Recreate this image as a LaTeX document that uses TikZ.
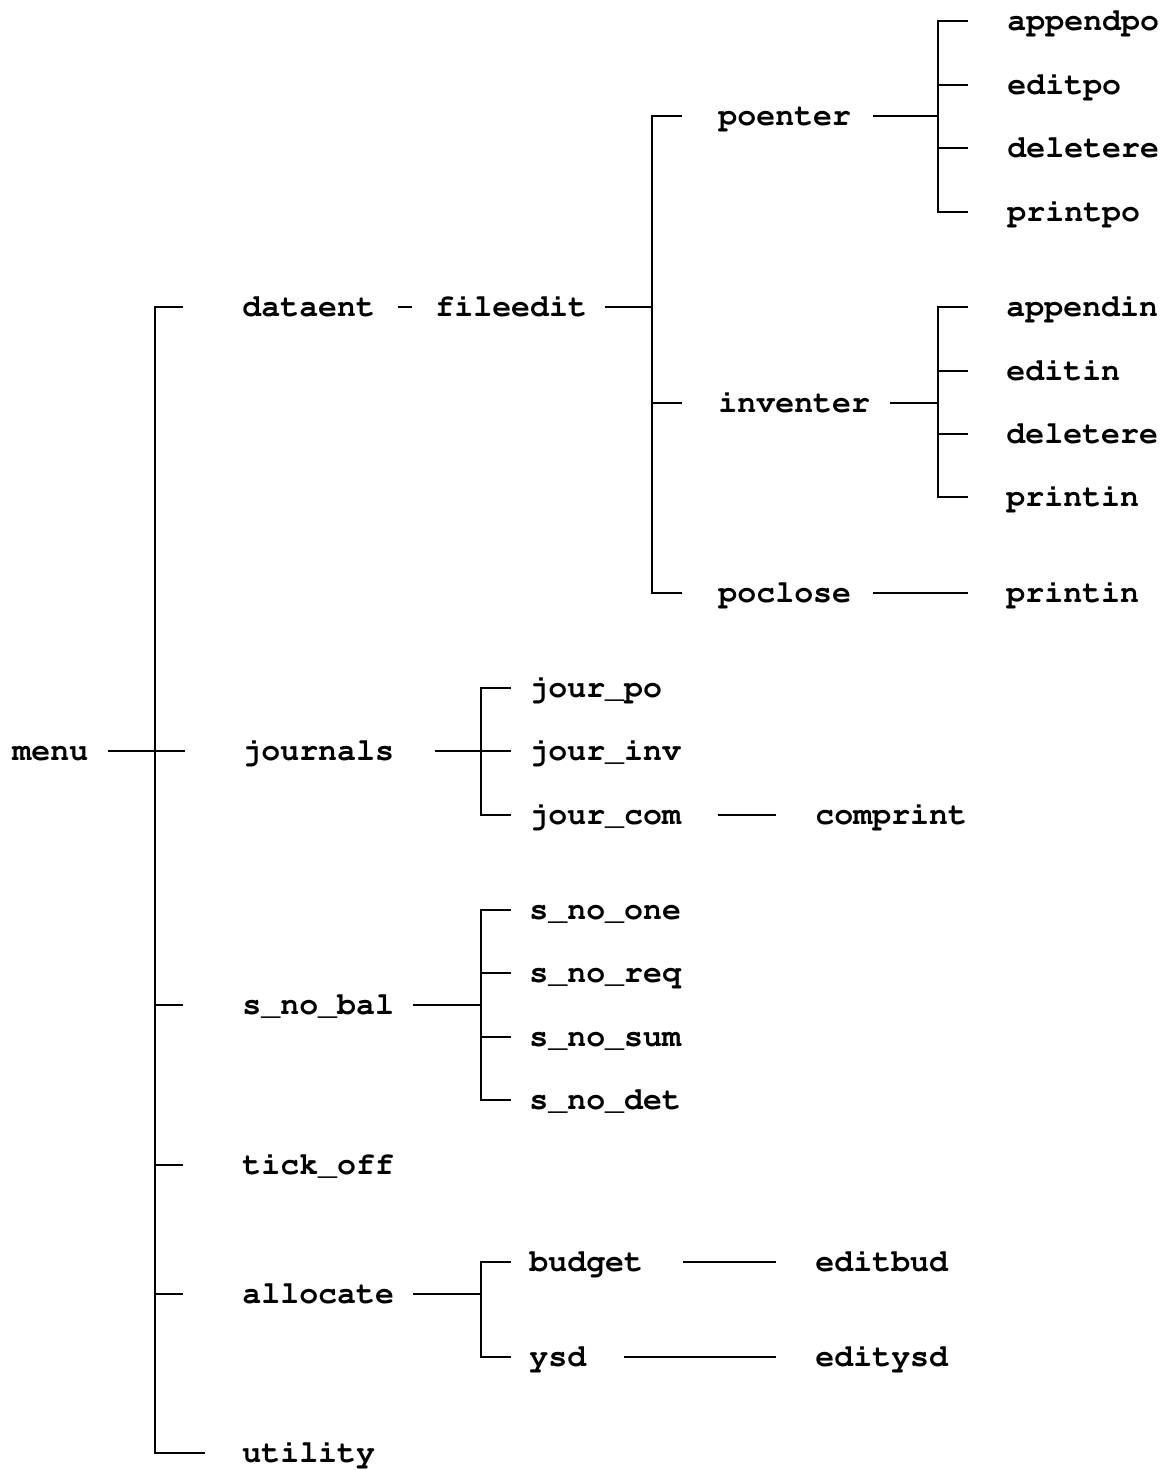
\documentclass[tikz,border=0pt]{standalone}
\usepackage[T1]{fontenc}
\usepackage{tikz}
\newcommand\menufont{\fontencoding{T1}\fontfamily{pcr}\bfseries\fontsize{15.8}{18}\selectfont}
\tikzset
{
    lbl/.style  = {anchor=west, inner sep=0pt, text height=11pt, text depth=1.5pt, font=\menufont},
    link/.style = {line width=1.4pt, line cap=butt}
}

\begin{document}
\begin{tikzpicture}[x=0.5pt, y=-0.5pt]
    \useasboundingbox (0,0) rectangle (1169,1470);
    % ------------------------------------------------ bar positions
    \coordinate (trunk) at (155,0);
    \coordinate (lvtwo) at (481,0);
    \coordinate (fe)    at (652,0);
    \coordinate (lvthree) at (938,0);
    % ------------------------------------------------ labels
    \node [lbl] (menu)     at (12,751)   {menu};
    \node [lbl] (dataent)  at (242,307)  {dataent};
    \node [lbl] (journals) at (242,751)  {journals};
    \node [lbl] (snobal)   at (242,1005) {s\_no\_bal};
    \node [lbl] (tickoff)  at (242,1165) {tick\_off};
    \node [lbl] (allocate) at (242,1294) {allocate};
    \node [lbl] (utility)  at (242,1453) {utility};

    \node [lbl] (fileedit) at (435,307)  {fileedit};
    \node [lbl] (poenter)  at (718,116)  {poenter};
    \node [lbl] (inventer) at (718,403)  {inventer};
    \node [lbl] (poclose)  at (718,593)  {poclose};

    \node [lbl] (appendpo) at (1007,21)  {appendpo};
    \node [lbl] (editpo)   at (1007,85)  {editpo};
    \node [lbl] (delpo)    at (1007,148) {deletere};
    \node [lbl] (printpo)  at (1007,212) {printpo};

    \node [lbl] (appendin) at (1006,307) {appendin};
    \node [lbl] (editin)   at (1006,371) {editin};
    \node [lbl] (delin)    at (1006,434) {deletere};
    \node [lbl] (printin)  at (1006,497) {printin};
    \node [lbl] (printcl)  at (1006,593) {printin};

    \node [lbl] (jourpo)   at (529,688)  {jour\_po};
    \node [lbl] (jourinv)  at (529,751)  {jour\_inv};
    \node [lbl] (jourcom)  at (529,815)  {jour\_com};
    \node [lbl] (comprint) at (815,815)  {comprint};

    \node [lbl] (snoone)   at (529,910)  {s\_no\_one};
    \node [lbl] (snoreq)   at (529,973)  {s\_no\_req};
    \node [lbl] (snosum)   at (529,1037) {s\_no\_sum};
    \node [lbl] (snodet)   at (529,1100) {s\_no\_det};

    \node [lbl] (budget)   at (529,1262) {budget};
    \node [lbl] (ysd)      at (529,1357) {ysd};
    \node [lbl] (editbud)  at (815,1262) {editbud};
    \node [lbl] (editysd)  at (815,1357) {editysd};

    % ------------------------------------------------ menu level
    \draw [link, shorten <=9.5pt, shorten >=28.5pt] (menu.east) -- (journals.west);
    \draw [link] ([xshift=-29.5pt]dataent.west) -- (dataent.west -| trunk) -- (utility.west -| trunk) -- ([xshift=-18.5pt]utility.west);
    \draw [link, shorten >=29.5pt] (snobal.west -| trunk) -- (snobal.west);
    \draw [link, shorten >=29.5pt] (tickoff.west -| trunk) -- (tickoff.west);
    \draw [link, shorten >=29.5pt] (allocate.west -| trunk) -- (allocate.west);

    % ------------------------------------------------ dataent
    \draw [link, shorten <=11pt, shorten >=11.5pt] (dataent.east) -- (fileedit.west);
    \draw [link, shorten <=9pt] (fileedit.east) -- (fileedit.east -| fe);
    \draw [link] ([xshift=-18pt]poenter.west) -- (poenter.west -| fe) -- (poclose.west -| fe) -- ([xshift=-18pt]poclose.west);
    \draw [link, shorten >=18pt] (inventer.west -| fe) -- (inventer.west);

    \draw [link, shorten <=10.5pt] (poenter.east) -- (poenter.east -| lvthree);
    \draw [link] ([xshift=-19.5pt]appendpo.west) -- (appendpo.west -| lvthree) -- (printpo.west -| lvthree) -- ([xshift=-19.5pt]printpo.west);
    \draw [link, shorten >=19.5pt] (editpo.west -| lvthree) -- (editpo.west);
    \draw [link, shorten >=19.5pt] (delpo.west -| lvthree) -- (delpo.west);

    \draw [link, shorten <=10pt] (inventer.east) -- (inventer.east -| lvthree);
    \draw [link] ([xshift=-19pt]appendin.west) -- (appendin.west -| lvthree) -- (printin.west -| lvthree) -- ([xshift=-19pt]printin.west);
    \draw [link, shorten >=19pt] (editin.west -| lvthree) -- (editin.west);
    \draw [link, shorten >=19pt] (delin.west -| lvthree) -- (delin.west);

    \draw [link, shorten <=10.5pt, shorten >=19pt] (poclose.east) -- (printcl.west);

    % ------------------------------------------------ journals
    \draw [link, shorten <=20.5pt, shorten >=9pt] (journals.east) -- (jourinv.west);
    \draw [link] ([xshift=-9pt]jourpo.west) -- (jourpo.west -| lvtwo) -- (jourcom.west -| lvtwo) -- ([xshift=-9pt]jourcom.west);
    \draw [link, shorten <=18.5pt, shorten >=19.5pt] (jourcom.east) -- (comprint.west);

    % ------------------------------------------------ s_no_bal
    \draw [link, shorten <=9.5pt] (snobal.east) -- (snobal.east -| lvtwo);
    \draw [link] ([xshift=-9pt]snoone.west) -- (snoone.west -| lvtwo) -- (snodet.west -| lvtwo) -- ([xshift=-9pt]snodet.west);
    \draw [link, shorten >=9pt] (snoreq.west -| lvtwo) -- (snoreq.west);
    \draw [link, shorten >=9pt] (snosum.west -| lvtwo) -- (snosum.west);

    % ------------------------------------------------ allocate
    \draw [link, shorten <=9.5pt] (allocate.east) -- (allocate.east -| lvtwo);
    \draw [link] ([xshift=-9pt]budget.west) -- (budget.west -| lvtwo) -- (ysd.west -| lvtwo) -- ([xshift=-9pt]ysd.west);
    \draw [link, shorten <=19.5pt, shorten >=19.5pt] (budget.east) -- (editbud.west);
    \draw [link, shorten <=18.5pt, shorten >=19.5pt] (ysd.east) -- (editysd.west);
\end{tikzpicture}
\end{document}
